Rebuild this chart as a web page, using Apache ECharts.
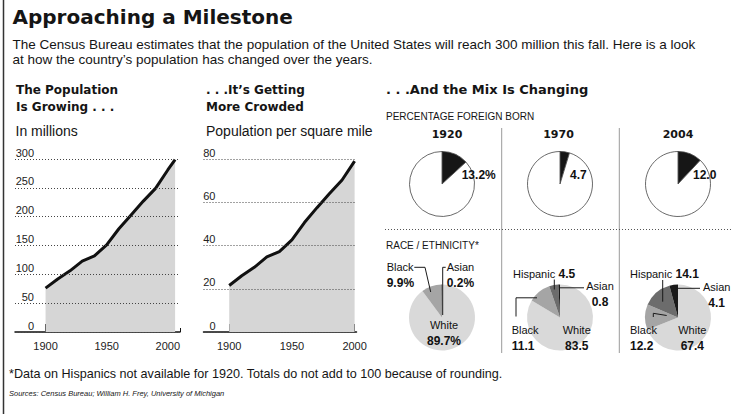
<!DOCTYPE html>
<html><head><meta charset="utf-8">
<script src="https://cdn.jsdelivr.net/npm/echarts@6/dist/echarts.min.js"></script>
<style>html,body{margin:0;padding:0;background:#fff}#c{width:736px;height:414px}</style>
</head><body><div id="c"></div>
<script>
// ---------- data ----------
const popYears = [1900,1910,1920,1930,1940,1950,1960,1970,1980,1990,2000,2006];
const popMillions = [76,92,106,123,132,151,179,203,227,249,281,299];
const popTickYears = [1900,1910,1920,1930,1940,1950,1960,1970,1980,1990,2000,2010];
const densYears = [1900,1910,1920,1930,1940,1950,1960,1970,1980,1990,2000];
const density = [21.5,26,29.9,34.7,37.2,42.6,50.6,57.5,64,70.3,79];
const densTickYears = [1900,1910,1920,1930,1940,1950,1960,1970,1980,1990,2000];
const yearLabels = [1900,1950,2000];
const pieYears = ['1920','1970','2004'];
const foreignBorn = [13.2,4.7,12.0];
const foreignSuffix = ['%','',''];
const races = ['White','Black','Hispanic','Asian'];
const race1920 = [89.7,9.9,null,0.2];
const race1970 = [83.5,11.1,4.5,0.8];
const race2004 = [67.4,12.2,14.1,4.1];
const raceData = [race1920, race1970, race2004];
const raceSuffix = ['%','',''];

// ---------- style / layout ----------
const SANS = '"Liberation Sans", Arial, sans-serif';
const BOLD = '"DejaVu Sans", sans-serif';
const raceColors = {White:'#d9d9d9', Black:'#a5a5a5', Hispanic:'#6c6c6c', Asian:'#1a1a1a'};
const pieCX = [442,560,678];
const topCY = 184, botCY = 317.5;
const topLabelDX = [19.7,10,15];
// label offsets [dx, dyTop, align]
const labelOffsets = [
  {Black:[-55.3,-58.8,'left'], Asian:[4.7,-58.8,'left'], White:[2,-0.5,'center']},
  {Hispanic:[-47,-51.7,'left'], Asian:[40,-39.3,'center'], Black:[-48.3,4,'left'], White:[16.7,4,'center']},
  {Hispanic:[-48,-51.2,'left'], Asian:[38.7,-38.8,'center'], Black:[-48,4.5,'left'], White:[14.3,4.5,'center']}
];
const leaders = [
  [[[-27.7,-50.2],[-17,-50.2],[-11.3,-25.5]], [[3.7,-50.2],[0.7,-50.2],[0.7,-2.5]]],
  [[[-5.7,-38],[-5.7,-28]], [[24,-29.7],[0,-29.7]], [[-44,-1],[-44,-19.7],[-23,-19.7]]],
  [[[-15.3,-37.5],[-15.3,-15.8]], [[22,-29.2],[-3,-29.2]], [[-24.7,-0.5],[-24.7,-4.2],[-11.3,-2]]]
];

function hasFont(name){
  const c=document.createElement('canvas').getContext('2d');
  c.font='20px monospace'; const a=c.measureText('abcdefghijklmW').width;
  c.font='20px "'+name+'", monospace'; const b=c.measureText('abcdefghijklmW').width;
  return a!==b;
}
const narrow = hasFont('Liberation Sans Narrow');
const srcFont = narrow ? 'italic 9px "Liberation Sans Narrow", sans-serif' : 'italic 7.5px "Liberation Sans", sans-serif';

const chart = echarts.init(document.getElementById('c'), null, {renderer:'svg'});

function xAxes(gridIndex, min, max, ticks){
  return [
    {type:'value', gridIndex, min, max, position:'bottom',
     axisLine:{show:true, onZero:false, lineStyle:{color:'#111', width:1.5}},
     axisTick:{show:true, inside:true, length:4, customValues:ticks, lineStyle:{color:'#111', width:1}},
     axisLabel:{show:false}, splitLine:{show:false}},
    {type:'value', gridIndex, min, max, position:'bottom',
     axisLine:{show:false, onZero:false},
     axisTick:{show:true, inside:true, length:8, customValues:yearLabels, lineStyle:{color:'#111', width:1}},
     axisLabel:{show:true, customValues:yearLabels, formatter:(v)=>String(v), margin:8, fontSize:11, color:'#222', fontFamily:SANS},
     splitLine:{show:false}}
  ];
}
function yAxis(gridIndex, max, interval, margin){
  return {type:'value', gridIndex, min:0, max, interval, z:3,
    axisLine:{show:false}, axisTick:{show:false},
    axisLabel:{inside:true, align:'right', verticalAlign:'bottom', margin, fontSize:11, color:'#222', fontFamily:SANS, padding:[0,0,1,0]},
    splitLine:{show:true, lineStyle:{type:[1,2], color:'#444', width:1}}};
}

const series = [];
series.push({type:'line', xAxisIndex:0, yAxisIndex:0, data:popYears.map((y,i)=>[y,popMillions[i]]),
  symbol:'none', silent:true, z:2, lineStyle:{color:'#111', width:3}, areaStyle:{color:'#d6d6d6', opacity:1}});
series.push({type:'line', xAxisIndex:2, yAxisIndex:1, data:densYears.map((y,i)=>[y,density[i]]),
  symbol:'none', silent:true, z:2, lineStyle:{color:'#111', width:3}, areaStyle:{color:'#d6d6d6', opacity:1}});

pieYears.forEach((yr,i)=>{
  series.push({type:'pie', center:[pieCX[i], topCY], radius:32.5, startAngle:90, clockwise:true,
    silent:true, avoidLabelOverlap:false, animation:false,
    itemStyle:{borderColor:'#444', borderWidth:0.8},
    label:{show:false}, labelLine:{show:false},
    labelLayout:{x:pieCX[i]+topLabelDX[i], y:topCY-9, align:'left', verticalAlign:'middle'},
    data:[
      {name:'Foreign born', value:foreignBorn[i], itemStyle:{color:'#161616'},
       label:{show:true, position:'center', formatter:foreignBorn[i].toFixed(1)+foreignSuffix[i],
              fontSize:12, fontWeight:'bold', color:'#111', fontFamily:SANS}},
      {name:'Native born', value:+(100-foreignBorn[i]).toFixed(1), itemStyle:{color:'#fff'}}
    ]});
});

raceData.forEach((vals,i)=>{
  const items = [];
  races.forEach((r,j)=>{ if(vals[j]!=null) items.push({name:r, value:vals[j], itemStyle:{color:raceColors[r]}}); });
  const names = items.map(d=>d.name);
  series.push({type:'pie', center:[pieCX[i], botCY], radius:33, startAngle:90, clockwise:true,
    silent:true, avoidLabelOverlap:false, animation:false,
    itemStyle:{borderWidth:0},
    labelLine:{show:false},
    label:{show:true, position:'center', color:'#111',
      formatter:(p)=>{
        const v = p.value.toFixed(1)+raceSuffix[i];
        return p.name==='Hispanic' ? '{n|'+p.name+'} {v|'+v+'}' : '{n|'+p.name+'}\n{v|'+v+'}';
      },
      rich:{n:{fontSize:11, fontFamily:SANS, color:'#111', lineHeight:16},
            v:{fontSize:12, fontFamily:SANS, fontWeight:'bold', color:'#111', lineHeight:16}}},
    labelLayout:(p)=>{
      const o = labelOffsets[i][names[p.dataIndex]];
      return {x:pieCX[i]+o[0], y:botCY+o[1], align:o[2], verticalAlign:'top'};
    },
    data:items});
});

// ---------- annotation graphics ----------
const g = [];
function txt(text,x,y,font,align){ g.push({type:'text', z:50, style:{text, x, y, font, fill:'#151515', align:align||'left', verticalAlign:'middle'}}); }
function line(x1,y1,x2,y2,stroke,w,dash){ g.push({type:'line', z:40, shape:{x1,y1,x2,y2}, style:{stroke, lineWidth:w, lineDash:dash||null}}); }

line(3.5,0,3.5,414,'#333',1.5);
txt('Approaching a Milestone',12.5,17,'bold 20px '+BOLD);
txt('The Census Bureau estimates that the population of the United States will reach 300 million this fall. Here is a look',12.5,44,'13.5px '+SANS);
txt('at how the country\u2019s population has changed over the years.',12.5,59.7,'13.5px '+SANS);
txt('The Population',16,89.5,'bold 12px '+BOLD);
txt('Is Growing . . .',16,107,'bold 12px '+BOLD);
txt('. . .It\u2019s Getting',206,89.5,'bold 12px '+BOLD);
txt('More Crowded',206,107,'bold 12px '+BOLD);
txt('. . .And the Mix Is Changing',386,89.5,'bold 13px '+BOLD);
txt('In millions',15.5,130.5,'14px '+SANS);
txt('Population per square mile',206,130.5,'14px '+SANS);
txt('PERCENTAGE FOREIGN BORN',386,116,'10px '+SANS);
const pieTitleX = [447,558.5,678];
pieYears.forEach((y,i)=>txt(y,pieTitleX[i],134,'bold 11px '+BOLD,'center'));
txt('RACE / ETHNICITY*',386,245,'10px '+SANS);
txt('*Data on Hispanics not available for 1920. Totals do not add to 100 because of rounding.',9,374,'12.6px '+SANS);
txt('Sources: Census Bureau; William H. Frey, University of Michigan',9,393,srcFont);

line(501.7,128,501.7,353,'#9a9a9a',1);
line(619.3,128,619.3,353,'#9a9a9a',1);
line(385,229.5,731,229.5,'#555',1,[1,2]);

leaders.forEach((set,i)=>set.forEach(pts=>{
  g.push({type:'polyline', z:60, shape:{points:pts.map(p=>[pieCX[i]+p[0], botCY+p[1]])},
    style:{stroke:'#1a1a1a', lineWidth:1, fill:null}});
}));

chart.setOption({
  animation:false,
  backgroundColor:'#fff',
  grid:[{left:15, top:159, width:165, height:173},{left:203.5, top:159, width:153, height:173}],
  xAxis:[...xAxes(0,1875,2010,popTickYears), ...xAxes(1,1879.5,2001.5,densTickYears)],
  yAxis:[yAxis(0,300,50,19), yAxis(1,80,20,12)],
  series,
  graphic:g
});
</script></body></html>
